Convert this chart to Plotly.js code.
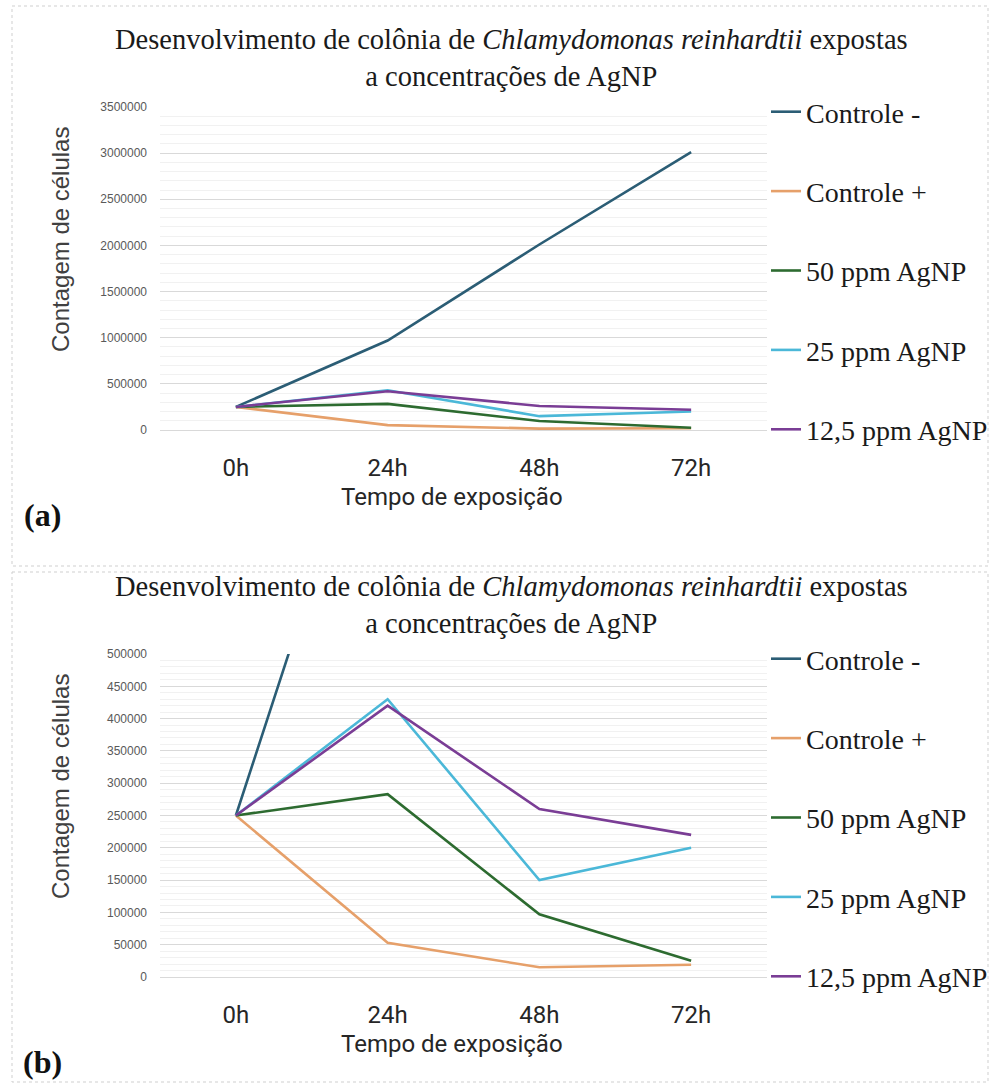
<!DOCTYPE html>
<html>
<head>
<meta charset="utf-8">
<script src="https://cdn.plot.ly/plotly-3.0.1.min.js"></script>
<style>html,body{margin:0;padding:0;background:#fff;}#chart{width:995px;height:1084px;}</style>
</head>
<body>
<div id="chart"></div>
<script>
// ---- data ----
const times = ['0h', '24h', '48h', '72h'];
const seriesNames = ['Controle -', 'Controle +', '50 ppm AgNP', '25 ppm AgNP', '12,5 ppm AgNP'];
const controleNeg = [250000, 970000, 2010000, 3010000];
const controlePos = [250000, 53000, 15000, 19000];
const ppm50 = [250000, 283000, 97000, 25000];
const ppm25 = [250000, 430000, 150000, 200000];
const ppm125 = [250000, 420000, 260000, 220000];
const colors = ['#2b5d75', '#e6a06a', '#2d6b30', '#4bb8d8', '#7a3d95'];

const titleText = 'Desenvolvimento de colônia de <i>Chlamydomonas reinhardtii</i> expostas<br>a concentrações de AgNP';
const yTitle = 'Contagem de células';
const xTitle = 'Tempo de exposição';

const W = 995, H = 1084;
const px = x => x / W;
const py = y => 1 - y / H;
const OFF = 547; // vertical offset of panel (b)

const allSeries = [controleNeg, controlePos, ppm50, ppm25, ppm125];
const traces = [];
[['x', 'y', 'legend'], ['x2', 'y2', 'legend2']].forEach((ax, p) => {
  allSeries.forEach((vals, i) => {
    traces.push({
      type: 'scatter', mode: 'lines',
      x: times, y: vals, name: seriesNames[i],
      xaxis: ax[0], yaxis: ax[1], legend: ax[2],
      legendgroup: 'g' + p + i,
      line: {color: colors[i], width: 2.6},
      hoverinfo: 'skip'
    });
  });
});

const tickFont = {family: 'Liberation Sans, Arial, sans-serif', size: 12, color: '#595959'};
const xTickFont = {family: 'Roboto, sans-serif', size: 24, color: '#262626'};
const gridC = '#d9d9d9';
const serif = 'Liberation Serif, Times New Roman, serif';

function yAxis(top, bottom, maxV, dtick, minorDtick) {
  return {
    domain: [py(bottom), py(top)], range: [0, maxV], dtick: dtick, tickformat: 'd',
    tickfont: tickFont, showgrid: true, gridcolor: gridC, gridwidth: 1,
    zeroline: true, zerolinecolor: gridC, showline: false, ticks: '',
    ticklabelstandoff: 12, fixedrange: true,
    minor: {dtick: minorDtick, showgrid: true, gridcolor: '#f1f1f1', gridwidth: 1}
  };
}
function xAxis(anchor) {
  return {
    domain: [px(160), px(767)], type: 'category', range: [-0.5, 3.5],
    tickfont: xTickFont, showgrid: false, zeroline: false, showline: false,
    ticks: '', ticklabelstandoff: 21, anchor: anchor, fixedrange: true
  };
}
function legend(topPx) {
  return {
    x: px(766), xanchor: 'left', y: py(topPx), yanchor: 'top',
    font: {family: serif, size: 28, color: '#1a1a1a'},
    tracegroupgap: 40, bgcolor: 'rgba(0,0,0,0)', borderwidth: 0, itemwidth: 30
  };
}

const annotations = [];
const shapes = [];
[0, OFF].forEach((o, p) => {
  annotations.push({
    xref: 'paper', yref: 'paper', x: px(511), y: py(58 + o), xanchor: 'center', yanchor: 'middle',
    text: titleText, showarrow: false,
    font: {family: serif, size: 28.5, color: '#1a1a1a'}
  });
  annotations.push({
    xref: 'paper', yref: 'paper', x: px(60), y: py(240 + o), xanchor: 'center', yanchor: 'middle',
    text: yTitle, textangle: -90, showarrow: false,
    font: {family: 'Liberation Sans, Arial, sans-serif', size: 24, color: '#404040'}
  });
  annotations.push({
    xref: 'paper', yref: 'paper', x: px(452), y: py(497 + o), xanchor: 'center', yanchor: 'middle',
    text: xTitle, showarrow: false,
    font: {family: 'Roboto, sans-serif', size: 24, color: '#262626'}
  });
  annotations.push({
    xref: 'paper', yref: 'paper', x: px(42), y: py(515 + o), xanchor: 'center', yanchor: 'middle',
    text: p === 0 ? '<b>(a)</b>' : '<b>(b)</b>', showarrow: false,
    font: {family: serif, size: 32, color: '#111'}
  });
});
shapes.push({type: 'rect', xref: 'paper', yref: 'paper', x0: px(12), x1: px(988), y0: py(6), y1: py(566),
  line: {color: '#cfcfcf', width: 1, dash: 'dot'}});
shapes.push({type: 'rect', xref: 'paper', yref: 'paper', x0: px(12), x1: px(988), y0: py(572), y1: py(1082),
  line: {color: '#cfcfcf', width: 1, dash: 'dot'}});

const layout = {
  width: W, height: H, margin: {l: 0, r: 0, t: 0, b: 0},
  paper_bgcolor: '#fff', plot_bgcolor: '#fff', showlegend: true,
  xaxis: xAxis('y'), yaxis: yAxis(107, 430, 3500000, 500000, 100000),
  xaxis2: xAxis('y2'), yaxis2: yAxis(107 + OFF, 430 + OFF, 500000, 50000, 10000),
  legend: legend(87), legend2: legend(87 + OFF),
  annotations: annotations, shapes: shapes
};

Plotly.newPlot('chart', traces, layout, {displayModeBar: false, staticPlot: true});
</script>
</body>
</html>
